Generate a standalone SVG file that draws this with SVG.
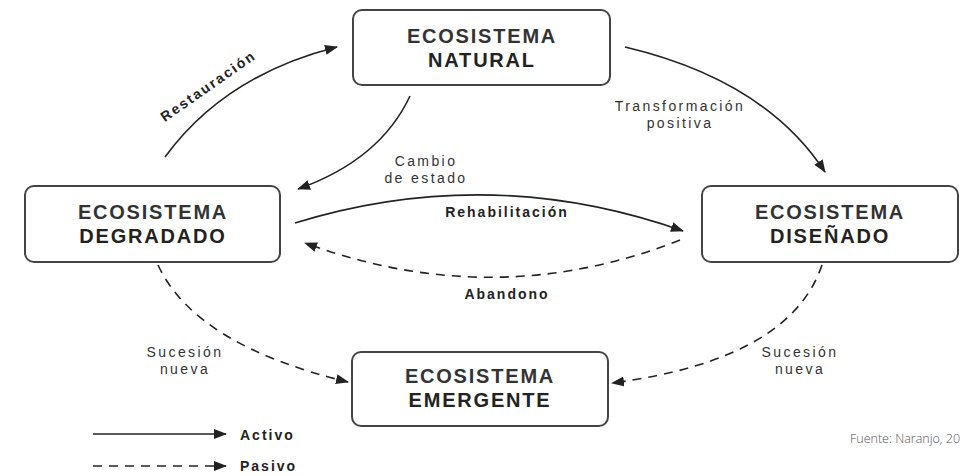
<svg xmlns="http://www.w3.org/2000/svg" width="969" height="476" viewBox="0 0 969 476">
  <style>
    .box { fill: #fff; stroke: #444; stroke-width: 2; }
    .title { font-family: "Liberation Sans", Arial, sans-serif; font-size: 20px; font-weight: 700; fill: #222; text-anchor: middle; letter-spacing: 1.8px; }
    .title1 { fill: #333; }
    .edge { fill: none; stroke: #222; stroke-width: 1.6; }
    .dash { stroke-dasharray: 9 7; }
    .lbl { font-family: "Liberation Sans", Arial, sans-serif; font-size: 14px; fill: #333; text-anchor: middle; letter-spacing: 2.4px; }
    .lblb { font-weight: 700; fill: #222; letter-spacing: 2px; }
    .src { font-family: "Open Sans", "Liberation Sans", sans-serif; font-size: 12.5px; font-weight: 300; fill: #555; }
  </style>
  <defs>
    <marker id="arrow" viewBox="0 0 13 10" refX="12" refY="5" markerWidth="13" markerHeight="10" markerUnits="userSpaceOnUse" orient="auto">
      <path d="M0,0 L13,5 L0,10 Z" fill="#222"/>
    </marker>
  </defs>
  <rect width="969" height="476" fill="#fff"/>

  <!-- nodes -->
  <g id="natural">
    <rect class="box" x="353" y="10" width="257" height="75" rx="9"/>
    <text class="title"><tspan class="title1" x="482" y="43">ECOSISTEMA</tspan><tspan x="482" y="67">NATURAL</tspan></text>
  </g>
  <g id="degradado">
    <rect class="box" x="25" y="186" width="255" height="76" rx="9"/>
    <text class="title"><tspan class="title1" x="153" y="219">ECOSISTEMA</tspan><tspan x="153" y="243">DEGRADADO</tspan></text>
  </g>
  <g id="disenado">
    <rect class="box" x="702" y="186" width="256" height="76" rx="9"/>
    <text class="title"><tspan class="title1" x="830" y="219">ECOSISTEMA</tspan><tspan x="830" y="243">DISEÑADO</tspan></text>
  </g>
  <g id="emergente">
    <rect class="box" x="352" y="352" width="256" height="74" rx="9"/>
    <text class="title"><tspan class="title1" x="480" y="383">ECOSISTEMA</tspan><tspan x="480" y="407">EMERGENTE</tspan></text>
  </g>

  <!-- connectors -->
  <g id="connectors">
    <path class="edge" d="M165,157 Q225,75 337,47" marker-end="url(#arrow)"/>
    <path class="edge" d="M410,96 Q380,160 298,189" marker-end="url(#arrow)"/>
    <path class="edge" d="M295,223 Q490,163 683,231" marker-end="url(#arrow)"/>
    <path class="edge dash" d="M680,240 Q495,313 305,243" marker-end="url(#arrow)"/>
    <path class="edge" d="M625,47 Q765,80 825,172" marker-end="url(#arrow)"/>
    <path class="edge dash" d="M158,265 Q195,345 348,382" marker-end="url(#arrow)"/>
    <path class="edge dash" d="M822,265 Q790,360 612,383" marker-end="url(#arrow)"/>
  </g>

  <!-- connector labels -->
  <g id="labels">
    <text class="lbl lblb" transform="translate(211,90) rotate(-35)">Restauración</text>
    <text class="lbl"><tspan x="426" y="166">Cambio</tspan><tspan x="426" y="183">de estado</tspan></text>
    <text class="lbl lblb" x="507" y="217">Rehabilitación</text>
    <text class="lbl lblb" x="507" y="299">Abandono</text>
    <text class="lbl"><tspan x="680" y="111">Transformación</tspan><tspan x="680" y="128">positiva</tspan></text>
    <text class="lbl"><tspan x="185" y="357">Sucesión</tspan><tspan x="185" y="374">nueva</tspan></text>
    <text class="lbl"><tspan x="800" y="357">Sucesión</tspan><tspan x="800" y="374">nueva</tspan></text>
  </g>

  <!-- legend -->
  <g id="legend">
    <path class="edge" d="M93,434 L226,434" marker-end="url(#arrow)"/>
    <text class="lbl lblb" x="240" y="440" style="text-anchor:start">Activo</text>
    <path class="edge dash" d="M93,466 L226,466" marker-end="url(#arrow)" stroke="#555"/>
    <text class="lbl lblb" x="240" y="471" style="text-anchor:start">Pasivo</text>
  </g>

  <text class="src" x="850" y="443">Fuente: Naranjo, 20</text>
</svg>
